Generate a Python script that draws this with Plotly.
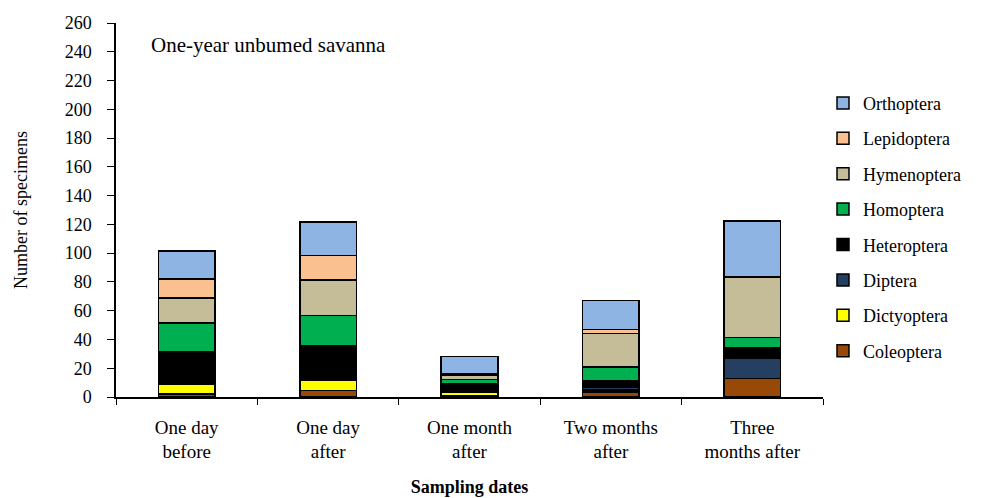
import plotly.graph_objects as go

categories = ["One day<br>before", "One day<br>after", "One month<br>after", "Two months<br>after", "Three<br>months after"]
orders = ["Coleoptera", "Dictyoptera", "Diptera", "Heteroptera", "Homoptera", "Hymenoptera", "Lepidoptera", "Orthoptera"]
coleoptera = [2, 4.5, 1, 3.5, 13]
dictyoptera = [7, 7, 2, 1.5, 0]
diptera = [0, 0, 0, 1.5, 14]
heteroptera = [22.5, 24, 6, 5, 7]
homoptera = [20, 21, 3, 9.5, 7.5]
hymenoptera = [17.5, 25, 3, 23, 42]
lepidoptera = [13, 17, 1, 3, 0]
orthoptera = [19.5, 23, 12, 20, 39]
values = [coleoptera, dictyoptera, diptera, heteroptera, homoptera, hymenoptera, lepidoptera, orthoptera]
colors = ["#984807", "#FFFF00", "#243F60", "#000000", "#00B050", "#C4BD97", "#FAC090", "#8EB4E3"]

FONT = "Liberation Serif"
fig = go.Figure()
n = len(orders)
for i, (name, vals, col) in enumerate(zip(orders, values, colors)):
    fig.add_trace(go.Bar(
        x=categories, y=vals, name=name, legendgroup=name, legendrank=n - i,
        marker=dict(color=col, line=dict(color="#000000", width=1.5)),
    ))

fig.update_layout(
    barmode="stack", bargap=0.6,
    width=990, height=498,
    margin=dict(l=108, r=175, t=15, b=109),
    plot_bgcolor="white", paper_bgcolor="white",
    font=dict(family=FONT, color="#000000", size=16),
    legend=dict(traceorder="grouped", tracegroupgap=9,
                x=1.0, xanchor="left", y=0.835, yanchor="top",
                font=dict(size=18, family=FONT), itemwidth=30),
    xaxis=dict(showline=True, linecolor="#000000", linewidth=1.5, automargin=False,
               ticks="outside", tickson="boundaries", ticklen=6, tickcolor="#000000",
               tickfont=dict(size=19, family=FONT), ticklabelstandoff=12,
               title=dict(text="<b>Sampling dates</b>", font=dict(size=18, family=FONT), standoff=19)),
    yaxis=dict(range=[0, 260], dtick=20, showline=True, linecolor="#000000", linewidth=1.5,
               automargin=False,
               ticks="outside", ticklen=7, tickcolor="#000000", showgrid=False, zeroline=False,
               tickfont=dict(size=18, family=FONT), ticklabelstandoff=12,
               title=dict(text="Number of specimens", font=dict(size=18, family=FONT), standoff=32)),
    annotations=[dict(text="One-year unbumed savanna", xref="paper", yref="paper",
                      x=0.047, y=0.94, xanchor="left", yanchor="middle", showarrow=False,
                      font=dict(size=21, family=FONT))],
)

fig.write_html("out.html")
